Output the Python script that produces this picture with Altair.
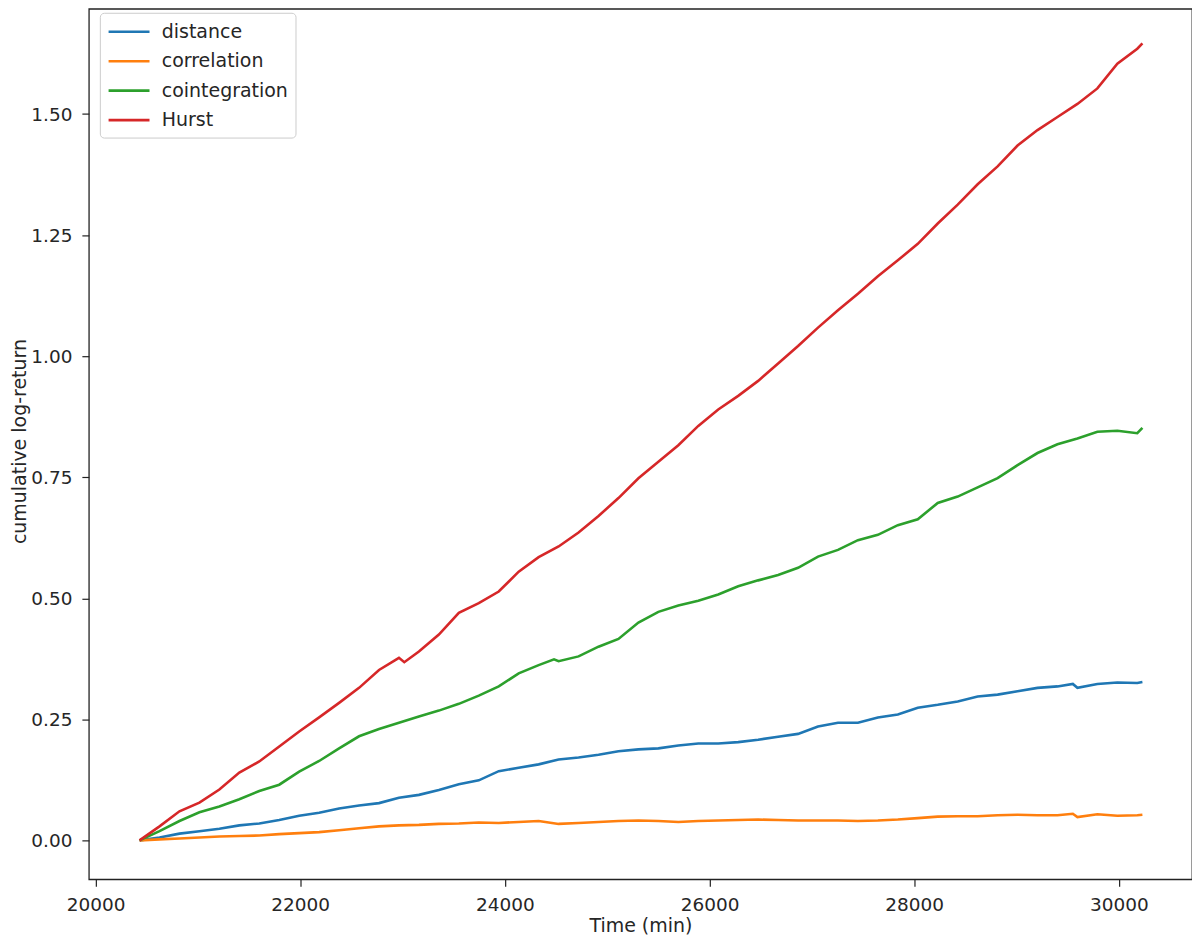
import altair as alt
import pandas as pd

# time grid (minutes)
time_min = [20430, 20625, 20820, 21015, 21210, 21405, 21600, 21795, 21990, 22185,
            22380, 22575, 22770, 22965, 23160, 23355, 23550, 23745, 23940, 24135,
            24330, 24525, 24720, 24915, 25110, 25305, 25500, 25695, 25890, 26085,
            26280, 26475, 26670, 26865, 27060, 27255, 27450, 27645, 27840, 28035,
            28230, 28425, 28620, 28815, 29010, 29205, 29400, 29595, 29790, 29985,
            30180, 30230]

distance = [0.000, 0.006, 0.014, 0.019, 0.024, 0.031, 0.035, 0.042, 0.051, 0.057,
            0.066, 0.072, 0.077, 0.088, 0.094, 0.104, 0.116, 0.124, 0.143, 0.150,
            0.157, 0.167, 0.171, 0.177, 0.184, 0.188, 0.190, 0.196, 0.200, 0.200,
            0.203, 0.208, 0.214, 0.220, 0.235, 0.243, 0.243, 0.254, 0.260, 0.274,
            0.280, 0.287, 0.297, 0.301, 0.308, 0.315, 0.318, 0.315, 0.323, 0.326,
            0.325, 0.327]

correlation = [0.000, 0.002, 0.004, 0.006, 0.008, 0.009, 0.010, 0.013, 0.015, 0.017,
               0.021, 0.025, 0.029, 0.031, 0.032, 0.034, 0.035, 0.037, 0.036, 0.038,
               0.040, 0.034, 0.036, 0.038, 0.040, 0.041, 0.040, 0.038, 0.040, 0.041,
               0.042, 0.043, 0.042, 0.041, 0.041, 0.041, 0.040, 0.041, 0.043, 0.046,
               0.049, 0.050, 0.050, 0.052, 0.053, 0.052, 0.052, 0.048, 0.054, 0.051,
               0.052, 0.053]

cointegration = [0.000, 0.019, 0.040, 0.058, 0.070, 0.085, 0.102, 0.115, 0.142, 0.164,
                 0.190, 0.215, 0.230, 0.243, 0.256, 0.268, 0.282, 0.299, 0.318, 0.345,
                 0.362, 0.370, 0.380, 0.400, 0.416, 0.450, 0.472, 0.485, 0.495, 0.508,
                 0.525, 0.537, 0.548, 0.563, 0.586, 0.600, 0.620, 0.631, 0.651, 0.663,
                 0.697, 0.710, 0.729, 0.748, 0.775, 0.800, 0.818, 0.830, 0.844, 0.846,
                 0.841, 0.852]

hurst = [0.000, 0.029, 0.060, 0.078, 0.105, 0.140, 0.163, 0.194, 0.225, 0.254,
         0.284, 0.315, 0.352, 0.377, 0.390, 0.425, 0.470, 0.490, 0.514, 0.555,
         0.585, 0.607, 0.636, 0.670, 0.707, 0.748, 0.782, 0.816, 0.856, 0.890,
         0.918, 0.949, 0.985, 1.021, 1.059, 1.095, 1.129, 1.165, 1.198, 1.232,
         1.274, 1.313, 1.355, 1.392, 1.435, 1.467, 1.494, 1.521, 1.553, 1.604,
         1.635, 1.646]

# a few extra readings at visible kinks
distance_extra_t = [29550]
distance_extra_v = [0.323]
correlation_extra_t = [29550]
correlation_extra_v = [0.055]
cointegration_extra_t = [24480]
cointegration_extra_v = [0.374]
hurst_extra_t = [23017]
hurst_extra_v = [0.368]

series_names = ["distance", "correlation", "cointegration", "Hurst"]
series_colors = ["#1f77b4", "#ff7f0e", "#2ca02c", "#d62728"]
series_values = [distance, correlation, cointegration, hurst]
series_extra = [(distance_extra_t, distance_extra_v),
                (correlation_extra_t, correlation_extra_v),
                (cointegration_extra_t, cointegration_extra_v),
                (hurst_extra_t, hurst_extra_v)]

x_ticks = [20000, 22000, 24000, 26000, 28000, 30000]
y_ticks = [0.0, 0.25, 0.5, 0.75, 1.0, 1.25, 1.5]

rows = []
for name, vals, (et, ev) in zip(series_names, series_values, series_extra):
    for t, v in zip(list(time_min) + et, list(vals) + ev):
        rows.append({"time": t, "value": v, "series": name})
df = pd.DataFrame(rows)

FONT = "DejaVu Sans"
TXT = "#262626"

chart = alt.Chart(df).mark_line(strokeWidth=2.6).encode(
    x=alt.X("time:Q",
            scale=alt.Scale(domain=[19934.6, 30714.6], nice=False, zero=False),
            axis=alt.Axis(title="Time (min)", values=x_ticks, format="d",
                          grid=False, domain=False, tickSize=7, tickColor="#222",
                          tickWidth=1.2, labelFontSize=18.5, labelFont=FONT,
                          labelColor=TXT, labelPadding=9, labelFlush=False,
                          titleFont=FONT, titleFontSize=19, titleFontWeight="normal",
                          titleColor=TXT, titleY=52, titleBaseline="alphabetic")),
    y=alt.Y("value:Q",
            scale=alt.Scale(domain=[-0.0804, 1.7175], nice=False, zero=False),
            axis=alt.Axis(title="cumulative log-return", values=y_ticks, format=".2f",
                          grid=False, domain=False, tickSize=7, tickColor="#222",
                          tickWidth=1.2, labelFontSize=18.5, labelFont=FONT,
                          labelColor=TXT, labelPadding=10, labelFlush=False,
                          titleFont=FONT, titleFontSize=19, titleFontWeight="normal",
                          titleColor=TXT, titleX=-78, titleY=433, titleAngle=-90,
                          titleBaseline="top", titleAlign="center")),
    color=alt.Color("series:N",
                    scale=alt.Scale(domain=series_names, range=series_colors),
                    sort=series_names,
                    legend=alt.Legend(orient="none", legendX=11, legendY=4,
                                      title=None, symbolType="M-1,0H3",
                                      symbolSize=420, symbolStrokeWidth=2.6,
                                      symbolFillColor="transparent",
                                      labelFontSize=19, labelFont=FONT,
                                      labelColor=TXT, labelOffset=31,
                                      fillColor="white", strokeColor="#cccccc",
                                      cornerRadius=4, padding=7, rowPadding=7.5,
                                      offset=0)),
    order=alt.Order("time:Q"),
).properties(
    width=1105,
    height=872,
    padding={"left": 81, "top": 0, "right": 0, "bottom": 56},
    autosize=alt.AutoSizeParams(type="none"),
).configure(
    background="white"
).configure_view(
    stroke="#222", strokeWidth=1.3
)

chart.save("out.html", embed_options={"renderer": "svg", "actions": False})
